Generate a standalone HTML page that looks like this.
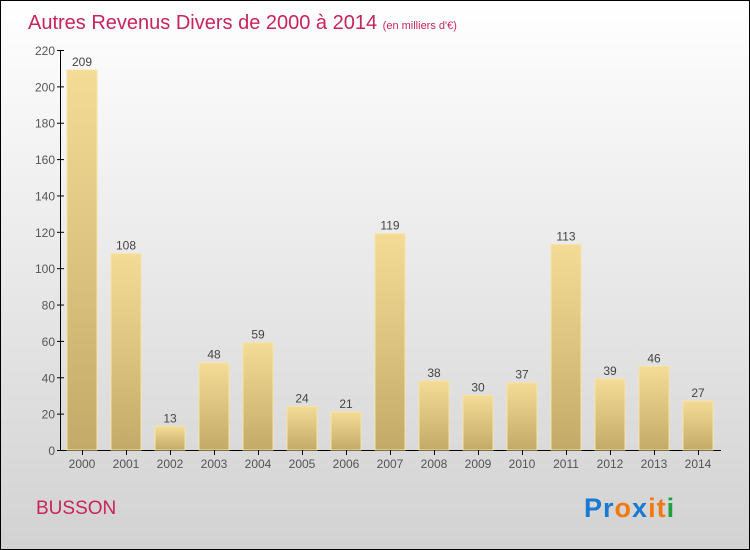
<!DOCTYPE html>
<html><head><meta charset="utf-8"><style>
body{margin:0}
#c{width:748px;height:548px;border:1px solid #000;background:linear-gradient(#ffffff,#d2d2d2);position:relative;overflow:hidden;font-family:"Liberation Sans",sans-serif}
</style></head><body>
<div id="c">
<svg width="748" height="548">
<defs><linearGradient id="g" x1="0" y1="0" x2="0" y2="1"><stop offset="0" stop-color="#f4dc96"/><stop offset="1" stop-color="#c4aa68"/></linearGradient></defs>
<text x="27" y="28" font-size="20" fill="#c8245a">Autres Revenus Divers de 2000 à 2014 <tspan font-size="11">(en milliers d'€)</tspan></text>
<g id="plot"></g>
<text x="35" y="513" font-size="19" fill="#c8245a">BUSSON</text>
<g font-size="27" font-weight="bold" font-family="Liberation Sans, sans-serif">
<text x="583" y="516" letter-spacing="1"><tspan fill="#1a7ad0">Pr</tspan><tspan fill="#f07a10">o</tspan><tspan fill="#1a7ad0">x</tspan><tspan fill="#f07a10">it</tspan><tspan fill="#22a040">i</tspan></text>
</g>
</svg>
</div>
<script>
const categories=["2000","2001","2002","2003","2004","2005","2006","2007","2008","2009","2010","2011","2012","2013","2014"];
const values=[209,108,13,48,59,24,21,119,38,30,37,113,39,46,27];
const ticks=[0,20,40,60,80,100,120,140,160,180,200,220];
const NS="http://www.w3.org/2000/svg";
const g=document.getElementById('plot');
const y=v=>449-v*400/220;
const x=i=>81+i*44;
function mk(t,a,p){const e=document.createElementNS(NS,t);for(const k in a)e.setAttribute(k,a[k]);(p||g).appendChild(e);return e;}
const ax=mk('line',{x1:59.5,y1:49,x2:59.5,y2:449.5,stroke:'#000'});


const bx=mk('line',{x1:59,y1:449.5,x2:720,y2:449.5,stroke:'#000'});


ticks.forEach(t=>{
 mk('line',{x1:56,x2:63,y1:y(t)+.5,y2:y(t)+.5,stroke:'#000'});
 const tx=mk('text',{x:54,y:y(t)+5,'font-size':12,'text-anchor':'end',fill:'#555'});
 tx.textContent=t;
 
 
});
values.forEach((v,i)=>{
 const r=mk('rect',{x:x(i)-15,y:y(v),width:30,height:449-y(v),fill:'url(#g)',stroke:'#f6e4a8','stroke-width':1});
 
 
 const l=mk('text',{x:x(i),y:y(v)-4,'font-size':12,'text-anchor':'middle',fill:'#444'});
 l.textContent=v;
 
 
 mk('line',{x1:x(i)+.5,x2:x(i)+.5,y1:449,y2:454,stroke:'#000'});
 const c=mk('text',{x:x(i),y:467,'font-size':12,'text-anchor':'middle',fill:'#555'});
 c.textContent=categories[i];
 
 
});
</script>
</body></html>
